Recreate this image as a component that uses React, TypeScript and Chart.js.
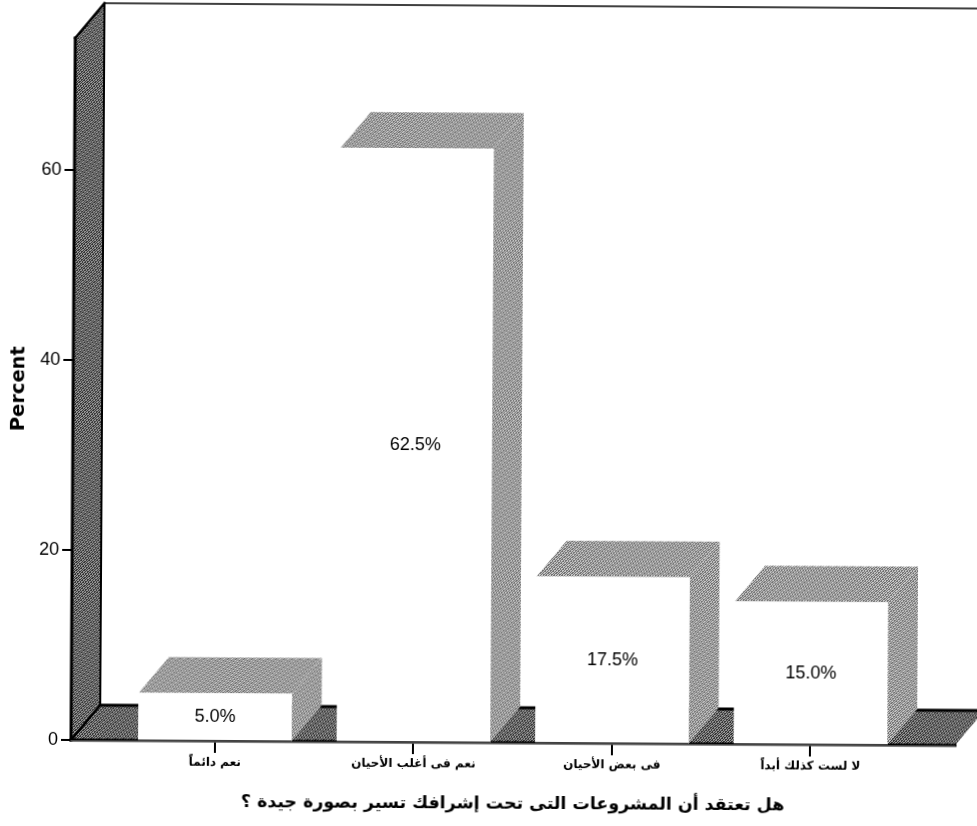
import React, { useEffect, useRef } from "react";
import { Chart, registerables } from "chart.js";

Chart.register(...registerables);

const categories = [
  "نعم دائماً",
  "نعم فى أغلب الأحيان",
  "فى بعض الأحيان",
  "لا لست كذلك أبداً",
];
const percentValues = [5.0, 62.5, 17.5, 15.0];
const axisTitleX = "هل تعتقد أن المشروعات التى تحت إشرافك تسير بصورة جيدة ؟";
const axisTitleY = "Percent";

const WALL_DX = 29;
const WALL_DY = -35;
const BAR_DX = 30;
const BAR_DY = -36;
const BAR_WIDTH = 153;

const TEXTURE = [
  "10100101",
  "01011010",
  "10110100",
  "01001011",
  "11010010",
  "00101101",
  "01101001",
  "10010110",
];

function dither(dark: string, light: string) {
  const tile = document.createElement("canvas");
  tile.width = 8;
  tile.height = 8;
  const c = tile.getContext("2d")!;
  TEXTURE.forEach((row, y) =>
    row.split("").forEach((bit, x) => {
      c.fillStyle = bit === "1" ? dark : light;
      c.fillRect(x, y, 1, 1);
    })
  );
  return tile;
}

function poly(ctx: CanvasRenderingContext2D, pts: number[][], fill: any) {
  ctx.beginPath();
  pts.forEach(([x, y], i) => (i ? ctx.lineTo(x, y) : ctx.moveTo(x, y)));
  ctx.closePath();
  ctx.fillStyle = fill;
  ctx.fill();
}

function line(ctx: CanvasRenderingContext2D, a: number[], b: number[], w: number, color = "#000") {
  ctx.beginPath();
  ctx.moveTo(a[0], a[1]);
  ctx.lineTo(b[0], b[1]);
  ctx.lineWidth = w;
  ctx.strokeStyle = color;
  ctx.lineCap = "square";
  ctx.stroke();
}

const box3d = {
  id: "box3d",
  beforeDatasetsDraw(chart: any) {
    const { ctx, chartArea: a, scales } = chart;
    const wallFill = ctx.createPattern(dither("#333333", "#999999"), "repeat");
    const barFill = ctx.createPattern(dither("#707070", "#c8c8c8"), "repeat");
    const l = a.left, r = a.right, t = a.top, b = a.bottom;
    ctx.save();
    // left wall and floor, from the axis extents
    poly(ctx, [[l, b], [l + WALL_DX, b + WALL_DY], [l + WALL_DX, t + WALL_DY], [l, t]], wallFill);
    poly(ctx, [[l, b], [l + WALL_DX, b + WALL_DY], [r + WALL_DX, b + WALL_DY], [r, b]], wallFill);
    line(ctx, [l, t], [l, b], 3);
    line(ctx, [l + WALL_DX, t + WALL_DY], [l + WALL_DX, b + WALL_DY], 2);
    line(ctx, [l, t], [l + WALL_DX, t + WALL_DY], 2.5);
    line(ctx, [l, b], [l + WALL_DX, b + WALL_DY], 2.5);
    line(ctx, [l + WALL_DX, t + WALL_DY], [r + WALL_DX, t + WALL_DY], 1.5);
    line(ctx, [l + WALL_DX, b + WALL_DY], [r + WALL_DX, b + WALL_DY], 3);
    line(ctx, [l, b], [r, b], 3);
    // bar top and side faces
    percentValues.forEach((v, i) => {
      const x0 = scales.x.getPixelForValue(i) - BAR_WIDTH / 2;
      const x1 = x0 + BAR_WIDTH;
      const y = scales.y.getPixelForValue(v);
      poly(ctx, [[x0, y], [x0 + BAR_DX, y + BAR_DY], [x1 + BAR_DX, y + BAR_DY], [x1, y]], barFill);
      poly(ctx, [[x1, y], [x1 + BAR_DX, y + BAR_DY], [x1 + BAR_DX, b + BAR_DY], [x1, b]], barFill);
    });
    ctx.restore();
  },
  afterDatasetsDraw(chart: any) {
    const { ctx, chartArea: a, scales } = chart;
    ctx.save();
    line(ctx, [a.left, a.bottom + 1], [a.right, a.bottom + 1], 1, "#8a8a8a");
    ctx.fillStyle = "#000";
    ctx.font = '18px "Liberation Sans"';
    ctx.textAlign = "center";
    ctx.textBaseline = "middle";
    percentValues.forEach((v, i) => {
      const x = scales.x.getPixelForValue(i);
      const y = (scales.y.getPixelForValue(v) + a.bottom) / 2;
      ctx.fillText(v.toFixed(1) + "%", x, y);
    });
    ctx.restore();
  },
};

export default function App() {
  const ref = useRef<HTMLCanvasElement>(null);
  useEffect(() => {
    const chart = new Chart(ref.current!, {
      type: "bar",
      data: {
        datasets: [
          {
            data: percentValues.map((v, i) => ({ x: i, y: v })),
            backgroundColor: "#ffffff",
            borderWidth: 0,
            barThickness: BAR_WIDTH,
          },
        ],
      },
      plugins: [box3d],
      options: {
        responsive: false,
        animation: false,
        layout: { padding: { left: 5, top: 38, right: 22, bottom: 14 } },
        plugins: { legend: { display: false }, tooltip: { enabled: false } },
        scales: {
          x: {
            type: "linear",
            offset: false,
            min: -0.725,
            max: 3.728,
            afterFit: (s: any) => { s.height = 72; },
            grid: { offset: false, drawOnChartArea: false, drawTicks: true, tickLength: 12, color: "#000", lineWidth: 2 },
            border: { display: false },
            ticks: {
              stepSize: 1,
              includeBounds: false,
              autoSkip: false,
              maxRotation: 0,
              padding: 3,
              color: "#000",
              font: { family: '"DejaVu Sans"', size: 12, weight: "bold" },
              callback: (v: any) => categories[v] ?? "",
            },
            title: {
              display: true,
              text: axisTitleX,
              color: "#000",
              padding: 0,
              font: { family: '"DejaVu Sans"', size: 17.4, weight: "bold" },
            },
          },
          y: {
            min: 0,
            max: 73.9,
            afterFit: (s: any) => { s.width = 66; },
            grid: { drawOnChartArea: false, drawTicks: true, tickLength: 10, color: "#000", lineWidth: 2 },
            border: { display: false },
            ticks: {
              stepSize: 20,
              includeBounds: false,
              padding: 3,
              color: "#000",
              font: { family: '"Liberation Sans"', size: 18 },
            },
            title: {
              display: true,
              text: axisTitleY,
              color: "#000",
              padding: 0,
              font: { family: '"DejaVu Sans"', size: 19.5, weight: "bold" },
            },
          },
        },
      },
    } as any);
    return () => chart.destroy();
  }, []);
  return (
    <div style={{ position: "fixed", left: 0, top: 0, width: 977, height: 826, overflow: "hidden", background: "#fff" }}>
      <canvas
        ref={ref}
        width={977}
        height={826}
        style={{
          position: "absolute",
          left: 0,
          top: 0,
          direction: "rtl",
          transform: "rotate(0.35deg)",
          transformOrigin: "71px 740px",
        }}
      />
    </div>
  );
}
